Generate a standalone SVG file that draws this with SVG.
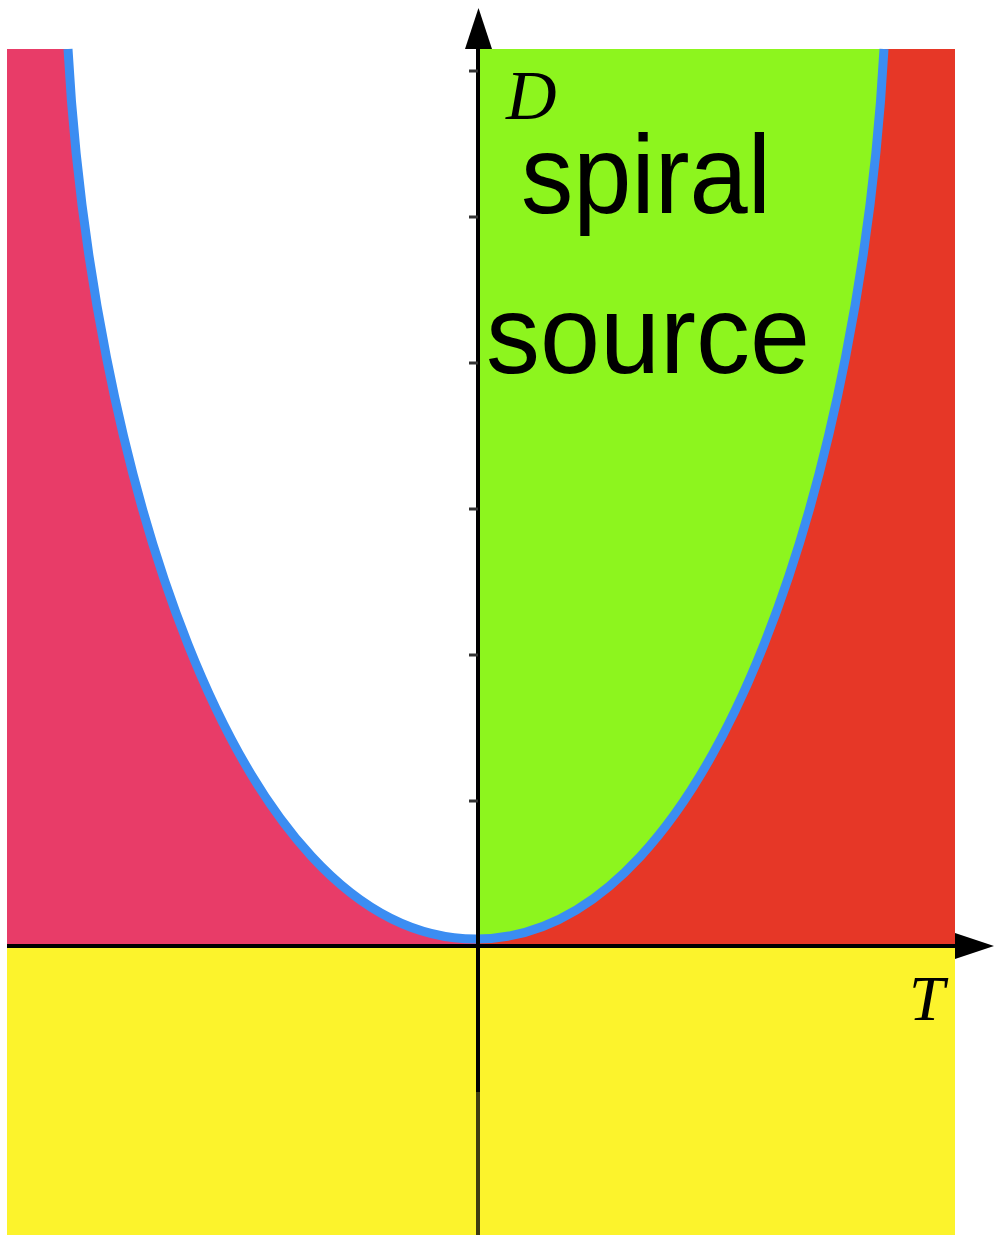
<svg xmlns="http://www.w3.org/2000/svg" width="994" height="1235" viewBox="0 0 994 1235">
<style>
.lbl{font-family:"Liberation Sans",Arial,sans-serif;font-size:111px;fill:#000}
.math{font-family:"Liberation Serif","Times New Roman",serif;font-style:italic;fill:#000}
.tick{stroke:#333;stroke-width:3}
</style>
<rect width="994" height="1235" fill="#fff"/>
<g id="regions">
<rect id="region-left" x="7" y="49" width="471" height="897" fill="#E83C68"/>
<rect id="region-right" x="478" y="49" width="477" height="897" fill="#E63727"/>
<path id="region-inside-left" d="M68,49 C90,450 230,939 476,939 L478,939 L478,49 Z" fill="#ffffff"/>
<path id="region-inside-right" d="M476,939 C722,939 862,450 884,49 L476,49 Z" fill="#8DF51E"/>
<rect id="region-below" x="7" y="946" width="948" height="289" fill="#FCF32C"/>
</g>
<g id="curve">
<path d="M68,49 C90,450 230,939 476,939 C722,939 862,450 884,49" fill="none" stroke="#3B8DF2" stroke-width="9"/>
</g>
<g id="axes">
<line x1="478" y1="46" x2="478" y2="1092" stroke="#000" stroke-width="4"/>
<line x1="478" y1="1092" x2="478" y2="1235" stroke="#3f3c10" stroke-width="4"/>
<polygon points="465,49 492,49 478.5,8" fill="#000"/>
<line x1="7" y1="946" x2="957" y2="946" stroke="#000" stroke-width="4"/>
<polygon points="955,933 955,959 994,946" fill="#000"/>
<g id="ticks">
<line class="tick" x1="469" y1="71" x2="478" y2="71"/>
<line class="tick" x1="469" y1="217" x2="478" y2="217"/>
<line class="tick" x1="469" y1="363" x2="478" y2="363"/>
<line class="tick" x1="469" y1="509" x2="478" y2="509"/>
<line class="tick" x1="469" y1="655" x2="478" y2="655"/>
<line class="tick" x1="469" y1="801" x2="478" y2="801"/>
</g>
</g>
<g id="labels">
<text class="math" x="506" y="119" font-size="70">D</text>
<text class="math" x="909" y="1020" font-size="64">T</text>
<text class="lbl" x="521" y="213" textLength="250" lengthAdjust="spacingAndGlyphs">spiral</text>
<text class="lbl" x="486" y="373" textLength="324" lengthAdjust="spacingAndGlyphs">source</text>
</g>
</svg>
